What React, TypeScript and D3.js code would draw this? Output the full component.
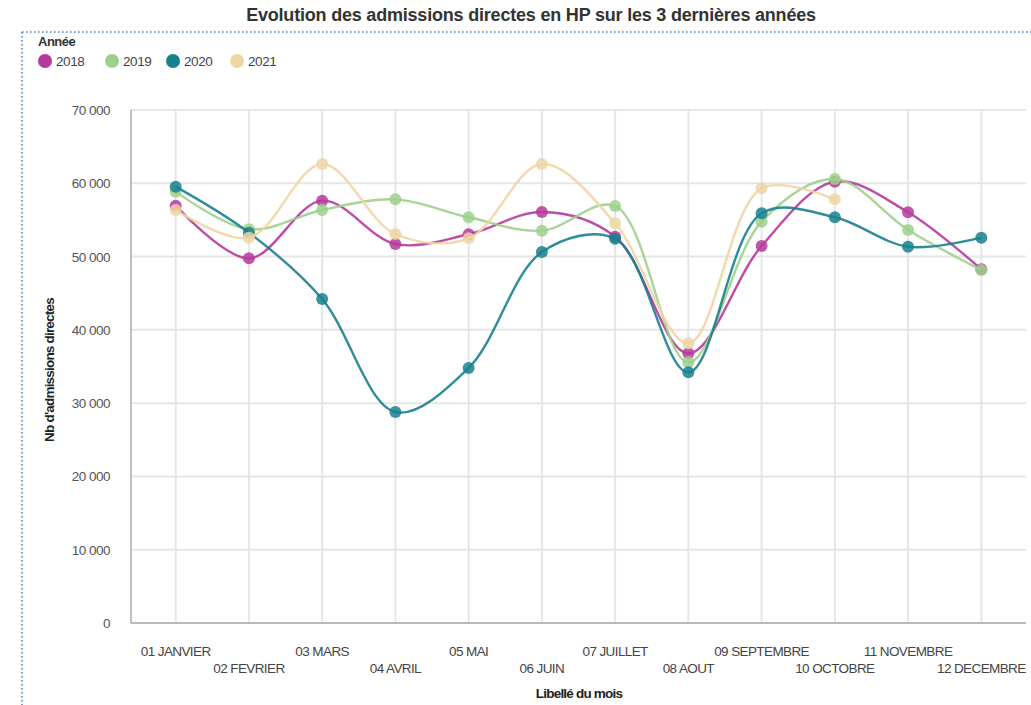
import React from "react";
import * as d3 from "d3";

const months = ["01 JANVIER","02 FEVRIER","03 MARS","04 AVRIL","05 MAI","06 JUIN","07 JUILLET","08 AOUT","09 SEPTEMBRE","10 OCTOBRE","11 NOVEMBRE","12 DECEMBRE"];
const years = ["2018","2019","2020","2021"];
const s2018 = [56950,49760,57630,51710,53040,56080,52700,36800,51440,60220,56040,48260];
const s2019 = [58860,53720,56360,57810,55360,53530,56900,35570,54760,60580,53620,48170];
const s2020 = [59540,53260,44210,28790,34800,50620,52440,34210,55900,55360,51350,52580];
const s2021 = [56360,52580,62630,53080,52490,62630,54540,38170,59310,57810];
const yTicks = [0,10000,20000,30000,40000,50000,60000,70000];
const colors = ["#b6399c","#9dd08c","#17818e","#efd5a4"];

const W = 1031, H = 705;
const FONT = "'Liberation Sans', Arial, sans-serif";

export default function App() {
  const x = d3.scalePoint<string>().domain(months).range([131, 1026]).padding(0.61);
  const y = d3.scaleLinear().domain([0, 70000]).range([623, 110]);
  const fmt = d3.formatLocale({ decimal: ",", thousands: "\u00a0", grouping: [3], currency: ["", "€"] }).format(",d");
  const series = [s2018, s2019, s2020, s2021];
  const line = d3.line<number>()
    .x((_, i) => x(months[i]) as number)
    .y((d) => y(d))
    .curve(d3.curveCatmullRom.alpha(0.5));
  const legendX = [45, 112, 173, 237];

  return (
    <svg width={W} height={H} style={{ position: "absolute", left: 0, top: 0, background: "#fff" }} fontFamily={FONT}>
      <text x={531} y={21} textAnchor="middle" fontSize={18} fontWeight="bold" fill="#333" letterSpacing={-0.2}>
        Evolution des admissions directes en HP sur les 3 dernières années
      </text>
      <line x1={22} y1={32} x2={W} y2={32} stroke="#4a78c4" strokeWidth={1.5} strokeDasharray="1.5,2.5" />
      <line x1={22} y1={32} x2={22} y2={H} stroke="#4a78c4" strokeWidth={1.5} strokeDasharray="1.5,2.5" />

      <text x={38} y={46} fontSize={13} fontWeight="bold" fill="#333" letterSpacing={-0.5}>Année</text>
      {years.map((yr, i) => (
        <g key={yr}>
          <circle cx={legendX[i]} cy={61} r={7} fill={colors[i]} />
          <text x={legendX[i] + 11} y={66} fontSize={13.5} fill="#444" letterSpacing={-0.4}>{yr}</text>
        </g>
      ))}

      {yTicks.map((t) => (
        <g key={t}>
          <line x1={131} x2={1026} y1={y(t)} y2={y(t)} stroke="#e6e6e6" strokeWidth={2} />
          <text x={110} y={y(t) + 5} textAnchor="end" fontSize={13.5} fill="#555" letterSpacing={-0.5}>{fmt(t)}</text>
        </g>
      ))}
      {months.map((m, i) => (
        <g key={m}>
          <line x1={x(m)} x2={x(m)} y1={110} y2={623} stroke="#e6e6e6" strokeWidth={2} />
          <text x={x(m)} y={i % 2 === 0 ? 656 : 673} textAnchor="middle" fontSize={13.5} fill="#444" letterSpacing={-0.6}>{m}</text>
        </g>
      ))}
      <line x1={131} x2={131} y1={110} y2={623} stroke="#aaa" strokeWidth={1.5} />
      <line x1={131} x2={1026} y1={623} y2={623} stroke="#aaa" strokeWidth={1.5} />

      <text transform={`translate(54,370) rotate(-90)`} textAnchor="middle" fontSize={13.5} fontWeight="bold" fill="#222" letterSpacing={-0.8}>
        Nb d'admissions directes
      </text>
      <text x={579} y={698} textAnchor="middle" fontSize={13.5} fontWeight="bold" fill="#222" letterSpacing={-0.8}>Libellé du mois</text>

      {series.map((s, k) => (
        <g key={k}>
          <path d={line(s) || ""} fill="none" stroke={colors[k]} strokeWidth={2.4} opacity={0.9} />
          {s.map((v, i) => (
            <circle key={i} cx={x(months[i])} cy={y(v)} r={6} fill={colors[k]} opacity={0.85} />
          ))}
        </g>
      ))}
    </svg>
  );
}
